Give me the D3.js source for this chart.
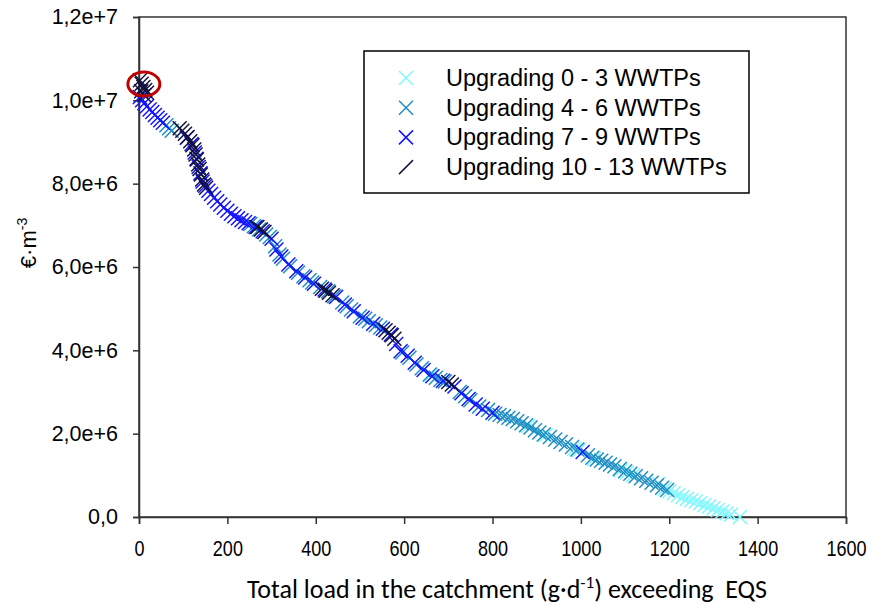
<!DOCTYPE html>
<html>
<head>
<meta charset="utf-8">
<script src="https://cdn.jsdelivr.net/npm/d3@7"></script>
<style>
  body { margin: 0; background: #fff; }
</style>
</head>
<body>
<div id="chart"></div>
<script>
// [total load exceeding EQS (g/d), cost (€·m-3)]
const upgrade0to3 = [
  [660, 3.4e6], [880, 2.18e6], [920, 1.96e6], [985, 1.64e6], [995, 1.6e6],
  [1030, 1.4e6], [1090, 1.12e6], [1104, 1.07e6], [1118, 1.0e6], [1176, 0.8e6],
  [1190, 0.68e6], [1200, 0.62e6], [1210, 0.57e6], [1220, 0.52e6], [1230, 0.48e6],
  [1240, 0.44e6], [1250, 0.4e6], [1260, 0.37e6], [1270, 0.33e6], [1280, 0.29e6],
  [1290, 0.25e6], [1300, 0.21e6], [1310, 0.17e6], [1320, 0.13e6], [1330, 0.09e6],
  [1340, 0.06e6], [1360, 0]
];

const upgrade4to6 = [
  [62, 9.4e6], [68, 9.33e6], [74, 9.27e6],
  [252, 7.03e6], [260, 6.98e6], [272, 6.9e6], [288, 6.78e6], [296, 6.72e6],
  [308, 6.5e6], [318, 6.3e6], [326, 6.2e6], [342, 6.02e6], [360, 5.86e6],
  [372, 5.78e6], [386, 5.68e6], [392, 5.63e6], [410, 5.52e6], [428, 5.42e6],
  [442, 5.3e6], [460, 5.15e6], [470, 5.06e6], [480, 4.98e6], [500, 4.82e6],
  [512, 4.76e6], [520, 4.7e6], [536, 4.6e6], [546, 4.55e6], [596, 3.95e6],
  [612, 3.82e6], [628, 3.66e6], [640, 3.57e6], [658, 3.42e6], [672, 3.34e6],
  [682, 3.29e6], [692, 3.25e6], [726, 3.0e6], [738, 2.9e6], [750, 2.8e6],
  [770, 2.65e6], [790, 2.57e6],
  [806, 2.48e6], [816, 2.45e6], [826, 2.42e6], [836, 2.38e6], [846, 2.35e6],
  [856, 2.3e6], [866, 2.25e6], [876, 2.2e6], [886, 2.15e6], [896, 2.08e6],
  [906, 2.03e6], [916, 1.98e6], [930, 1.92e6], [942, 1.86e6], [954, 1.8e6],
  [966, 1.74e6], [980, 1.68e6], [992, 1.62e6], [1016, 1.48e6], [1026, 1.42e6],
  [1036, 1.38e6], [1046, 1.35e6], [1056, 1.3e6], [1066, 1.26e6], [1076, 1.22e6],
  [1088, 1.15e6], [1100, 1.1e6], [1112, 1.04e6], [1124, 0.98e6], [1136, 0.93e6],
  [1148, 0.87e6], [1160, 0.82e6], [1172, 0.76e6], [1184, 0.7e6], [1195, 0.65e6]
];

const upgrade7to9 = [
  [2, 10.08e6], [7, 10.0e6], [12, 9.93e6], [18, 9.86e6], [24, 9.78e6],
  [30, 9.72e6], [36, 9.65e6], [42, 9.58e6], [48, 9.52e6], [54, 9.46e6],
  [108, 9.1e6], [119, 8.95e6], [126, 8.75e6], [130, 8.6e6], [135, 8.4e6],
  [139, 8.25e6], [144, 8.05e6], [150, 7.95e6], [157, 7.83e6], [163, 7.75e6],
  [170, 7.66e6], [177, 7.58e6], [184, 7.5e6], [192, 7.42e6], [200, 7.35e6],
  [208, 7.28e6], [216, 7.22e6], [224, 7.17e6], [232, 7.12e6], [240, 7.08e6],
  [248, 7.05e6], [264, 6.96e6], [280, 6.86e6],
  [300, 6.68e6], [311, 6.42e6], [322, 6.25e6], [338, 6.06e6], [356, 5.9e6],
  [376, 5.75e6], [396, 5.6e6], [420, 5.46e6], [446, 5.28e6], [466, 5.1e6],
  [486, 4.94e6], [506, 4.78e6], [530, 4.64e6], [552, 4.52e6], [570, 4.38e6],
  [582, 4.15e6], [592, 3.98e6], [608, 3.87e6], [624, 3.7e6], [644, 3.53e6],
  [664, 3.38e6], [688, 3.27e6], [714, 3.13e6], [730, 2.97e6], [746, 2.83e6],
  [762, 2.7e6], [778, 2.6e6], [800, 2.5e6], [1004, 1.56e6]
];

const upgrade10to13 = [
  [2, 10.48e6], [6, 10.4e6], [10, 10.32e6], [14, 10.25e6], [18, 10.18e6],
  [5, 10.22e6], [12, 10.12e6],
  [92, 9.33e6], [98, 9.27e6], [104, 9.2e6], [110, 9.12e6], [116, 9.02e6],
  [121, 8.92e6], [125, 8.82e6], [128, 8.7e6], [131, 8.58e6], [134, 8.46e6],
  [137, 8.35e6], [140, 8.22e6], [143, 8.1e6], [147, 7.98e6], [152, 7.9e6],
  [268, 6.96e6], [276, 6.9e6], [284, 6.84e6],
  [414, 5.48e6], [422, 5.43e6], [430, 5.38e6], [438, 5.32e6],
  [558, 4.48e6], [565, 4.42e6], [572, 4.36e6], [578, 4.28e6],
  [700, 3.24e6], [708, 3.18e6]
];

const seriesNames = [
  "Upgrading 0 - 3 WWTPs",
  "Upgrading 4 - 6 WWTPs",
  "Upgrading 7 - 9 WWTPs",
  "Upgrading 10 - 13 WWTPs"
];
const seriesData = [upgrade0to3, upgrade4to6, upgrade7to9, upgrade10to13];
const seriesColors = ["#7ff8ff", "#1e8ec4", "#1414ff", "#12123f"];

const xTicks = [0, 200, 400, 600, 800, 1000, 1200, 1400, 1600];
const yTicks = [0, 2e6, 4e6, 6e6, 8e6, 1e7, 1.2e7];

// highlighted optimum (red ellipse)
const highlight = [11, 10.39e6];

const width = 872;
const height = 604;
const margin = { top: 17, right: 26, bottom: 87, left: 139 };

const svg = d3.select("#chart")
  .append("svg")
  .attr("width", width)
  .attr("height", height);

const xScale = d3.scaleLinear()
  .domain([0, 1600])
  .range([margin.left, width - margin.right]);

const yScale = d3.scaleLinear()
  .domain([0, 1.2e7])
  .range([height - margin.bottom, margin.top]);

const yFormat = v => v === 0 ? "0,0" : d3.format(".1e")(v).replace(".", ",");

// plot frame
svg.append("rect")
  .attr("x", margin.left)
  .attr("y", margin.top)
  .attr("width", width - margin.left - margin.right)
  .attr("height", height - margin.top - margin.bottom)
  .attr("fill", "none")
  .attr("stroke", "#333")
  .attr("stroke-width", 1.5);

const xAxis = svg.append("g")
  .attr("transform", `translate(0,${height - margin.bottom})`)
  .call(d3.axisBottom(xScale).tickValues(xTicks).tickSize(7).tickPadding(16).tickFormat(d3.format("d")));

xAxis.select(".domain").attr("stroke", "#333").attr("stroke-width", 1.5);
xAxis.selectAll(".tick line").attr("stroke", "#333").attr("stroke-width", 1.5);
// narrow, tall digits like the original
xAxis.selectAll("text")
  .attr("fill", "#000")
  .attr("transform", "scale(0.82,1)")
  .style("font-family", "'Liberation Sans', Arial, sans-serif")
  .style("font-size", "22px");

const yAxis = svg.append("g")
  .attr("transform", `translate(${margin.left},0)`)
  .call(d3.axisLeft(yScale).tickValues(yTicks).tickSize(6).tickPadding(15).tickFormat(yFormat));

yAxis.select(".domain").attr("stroke", "#333").attr("stroke-width", 1.5);
yAxis.selectAll(".tick line").attr("stroke", "#333").attr("stroke-width", 1.5);
yAxis.selectAll("text")
  .attr("fill", "#000")
  .style("font-family", "'Liberation Sans', Arial, sans-serif")
  .style("font-size", "21.5px");

// axis titles
const yTitle = svg.append("text")
  .attr("transform", "translate(36,243) rotate(-90)")
  .attr("text-anchor", "middle")
  .style("font-family", "'Liberation Sans', Arial, sans-serif")
  .style("font-size", "22px");
yTitle.append("tspan").text("€·m");
yTitle.append("tspan").attr("dy", -9).style("font-size", "14px").text("-3");

const xTitle = svg.append("text")
  .attr("x", 507)
  .attr("y", 598)
  .attr("text-anchor", "middle")
  .style("font-family", "Carlito, Lato, sans-serif")
  .style("font-size", "26px");
xTitle.append("tspan").text("Total load in the catchment (g·d");
xTitle.append("tspan").attr("dy", -10).style("font-size", "17px").text("-1");
xTitle.append("tspan").attr("dy", 10).text(")\u00a0exceeding\u00a0\u00a0EQS");

// X markers, drawn series by series
const cross = r => `M${-r},${-r}L${r},${r}M${-r},${r}L${r},${-r}`;

seriesData.forEach((data, i) => {
  svg.append("g")
    .attr("stroke", seriesColors[i])
    .attr("stroke-width", 1.5)
    .attr("fill", "none")
    .selectAll("path")
    .data(data)
    .enter()
    .append("path")
    .attr("transform", d => `translate(${xScale(d[0])},${yScale(d[1])})`)
    .attr("d", cross(7));
});

svg.append("ellipse")
  .attr("cx", xScale(highlight[0]))
  .attr("cy", yScale(highlight[1]))
  .attr("rx", 16)
  .attr("ry", 12)
  .attr("fill", "none")
  .attr("stroke", "#c00000")
  .attr("stroke-width", 3);

// legend
const legend = svg.append("g")
  .attr("transform", "translate(364,51)");

legend.append("rect")
  .attr("width", 385)
  .attr("height", 142)
  .attr("fill", "#fff")
  .attr("stroke", "#000")
  .attr("stroke-width", 1.5);

seriesNames.forEach((name, i) => {
  const row = legend.append("g")
    .attr("transform", `translate(42, ${27 + i * 29.7})`);

  row.append("path")
    .attr("d", i === 3 ? "M-7,7L7,-7" : cross(7))
    .attr("stroke", seriesColors[i])
    .attr("stroke-width", 1.5)
    .attr("fill", "none");

  row.append("text")
    .attr("x", 40)
    .attr("y", 8)
    .text(name)
    .style("font-family", "'Liberation Sans', Arial, sans-serif")
    .style("font-size", "23.5px");
});
</script>
</body>
</html>
